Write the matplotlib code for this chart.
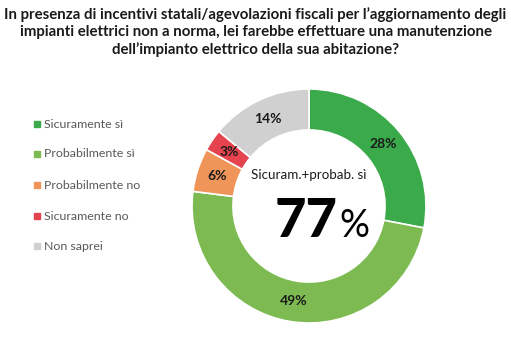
import matplotlib.pyplot as plt
from matplotlib.patches import Rectangle

# Survey answers (percent of respondents)
categories = ["Sicuramente sì", "Probabilmente sì", "Probabilmente no",
              "Sicuramente no", "Non saprei"]
values = [28, 49, 6, 3, 14]
colors = ["#3AAA4A", "#7DBB52", "#EF9559", "#E5444F", "#D0D0D0"]
yes_total = values[0] + values[1]

title = ("In presenza di incentivi statali/agevolazioni fiscali per l’aggiornamento degli\n"
         "impianti elettrici non a norma, lei farebbe effettuare una manutenzione\n"
         "dell’impianto elettrico della sua abitazione?")

plt.rcParams["font.family"] = ["Lato", "DejaVu Sans"]

W, H = 511, 342
fig = plt.figure(figsize=(W / 100, H / 100), dpi=100)
fig.patch.set_facecolor("white")

fig.text(0.5, 1 - 32 / H, title, ha="center", va="center", fontsize=10.8,
         fontweight="bold", color="#1a1a1a", linespacing=1.25)

# donut: center (309, 206) px, outer radius 117 px
cx, cy, r = 309, 206, 117
ax = fig.add_axes([(cx - r) / W, 1 - (cy + r) / H, 2 * r / W, 2 * r / H])
wedges, _, autotexts = ax.pie(
    values, colors=colors, startangle=90, counterclock=False,
    radius=1.0, autopct=lambda p: f"{p:.0f}%", pctdistance=0.825,
    wedgeprops=dict(width=0.35, edgecolor="white", linewidth=1.2),
    textprops=dict(fontsize=10, fontweight="bold", color="#1a1a1a"))
ax.set_xlim(-1, 1)
ax.set_ylim(-1, 1)
ax.set_aspect("equal")
ax.axis("off")

ax.text(0, 0.265, "Sicuram.+probab. sì", ha="center", va="center",
        fontsize=9.6, color="#1a1a1a")
ax.text(0.248, -0.265, f"{yes_total}", ha="right", va="baseline", fontsize=39,
        fontweight="black", color="black")
ax.text(0.262, -0.265, "%", ha="left", va="baseline", fontsize=27, color="black")

# legend on the left
leg_y = [124, 154, 185, 216, 246]
for name, col, y in zip(categories, colors, leg_y):
    fig.patches.append(Rectangle((34 / W, 1 - (y + 3) / H), 6 / W, 6 / H,
                                 transform=fig.transFigure, color=col))
    fig.text(44 / W, 1 - y / H, name, ha="left", va="center", fontsize=8.9,
             color="#595959")

fig.savefig("out.png", dpi=100)
